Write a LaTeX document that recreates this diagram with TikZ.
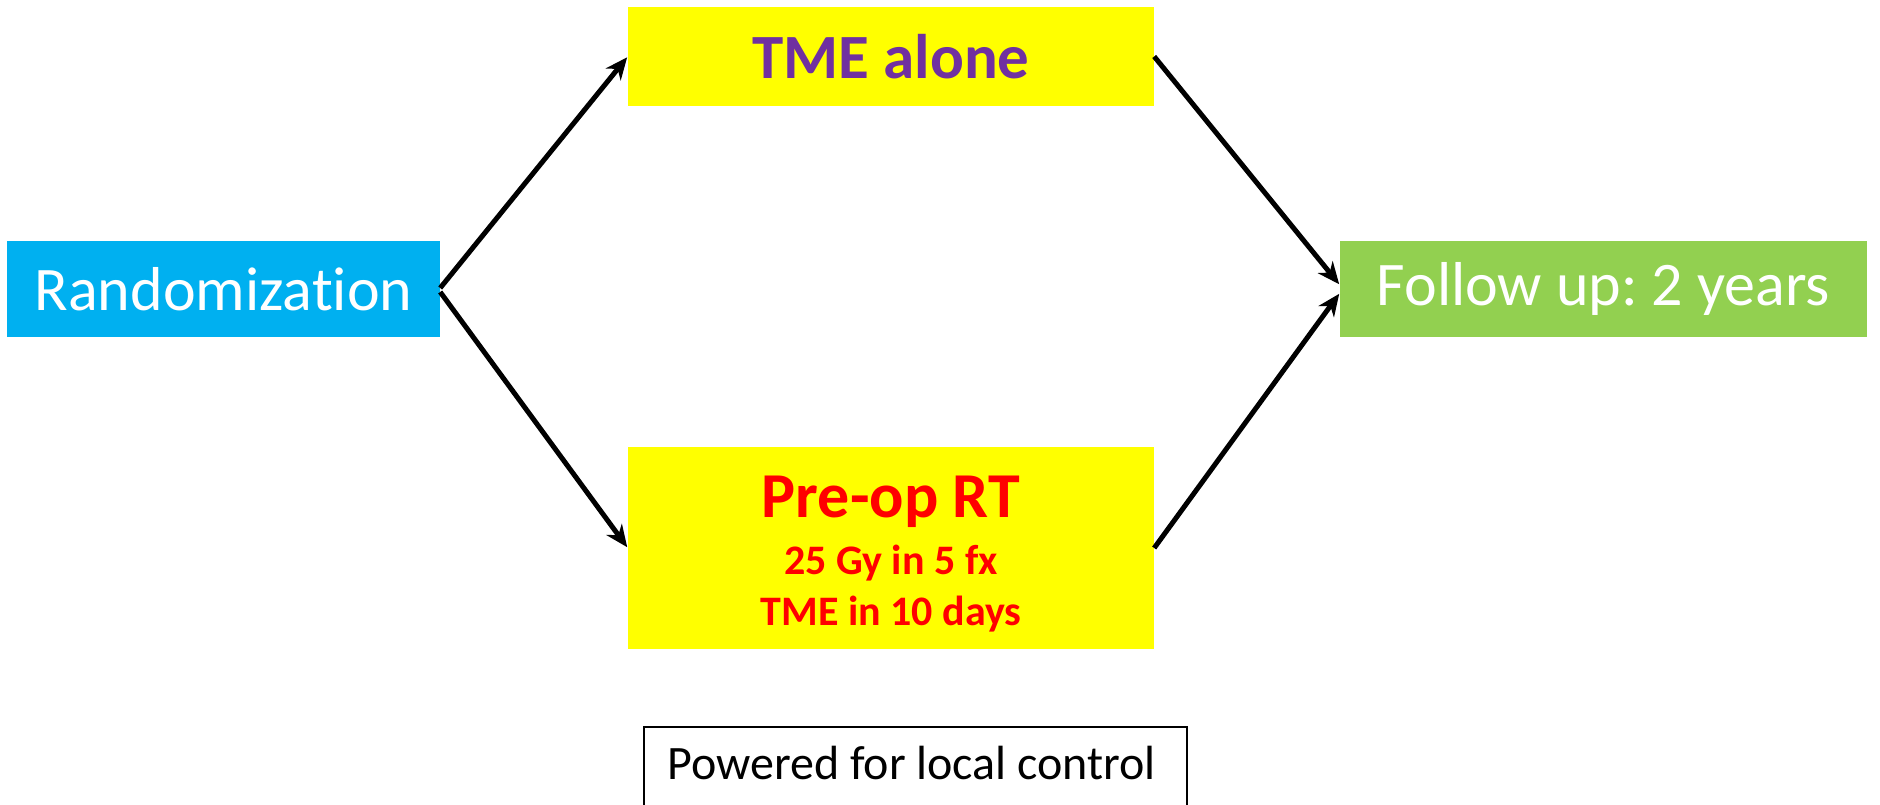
\documentclass[tikz,border=0pt]{standalone}
\usepackage{fontspec}
\setmainfont{Carlito}[Ligatures={NoCommon,NoRequired,NoContextual}]
\usetikzlibrary{arrows.meta,calc}
\definecolor{randblue}{HTML}{00B0F0}
\definecolor{armyellow}{HTML}{FFFF00}
\definecolor{tmepurple}{HTML}{7030A0}
\definecolor{rtred}{HTML}{FF0000}
\definecolor{fugreen}{HTML}{92D050}
\tikzset{
  boxbase/.style={rectangle, inner sep=0pt, anchor=center},
  arr/.style={line width=5pt, -{Stealth[length=22pt,width=19pt,inset=7pt]}, shorten >=1pt},
}
\frenchspacing
\begin{document}
\begin{tikzpicture}[x=1pt,y=-1pt]
\useasboundingbox (0,0) rectangle (1880,805);
\clip (0,0) rectangle (1880,805);
\node[boxbase, fill=randblue, minimum width=433pt, minimum height=96pt, text=white,
  font=\fontsize{62}{72}\selectfont] (rand) at (223.5,289) {\raisebox{-3pt}{Randomization}};
\node[boxbase, fill=armyellow, minimum width=526pt, minimum height=99pt, text=tmepurple,
  font=\bfseries\fontsize{63}{72}\selectfont] (tme) at (891,56.5) {TME alone};
\node[boxbase, fill=armyellow, minimum width=526pt, minimum height=202pt] (preop) at (891,548) {};
\node[boxbase, text=rtred, align=center, font=\bfseries\fontsize{42}{51}\selectfont]
  (preoptext) at ($(preop.center)+(0,6)$)
  {{\fontsize{64}{64}\selectfont Pre-op RT}\\[6pt]25 Gy in 5 fx\\TME in 10 days};
\node[boxbase, fill=fugreen, minimum width=527pt, minimum height=96pt, text=white,
  font=\fontsize{62}{72}\selectfont] (follow) at (1603.5,289) {\raisebox{-3pt}{Follow up: 2 years}};
\node[inner sep=0pt, anchor=base west, font=\fontsize{48}{56}\selectfont]
  (powered) at (667,779) {Powered for local control};
\draw[line width=1.5pt] ($(powered.base west)+(-23,-52)$) rectangle ++(543,100);
\draw[arr] ($(rand.east)+(0,-1)$) -- (tme.west);
\draw[arr] ($(rand.east)+(0,3)$) -- (preop.west);
\draw[arr] (tme.east) -- ($(follow.west)+(0,-4)$);
\draw[arr] (preop.east) -- ($(follow.west)+(0,4)$);
\end{tikzpicture}
\end{document}
